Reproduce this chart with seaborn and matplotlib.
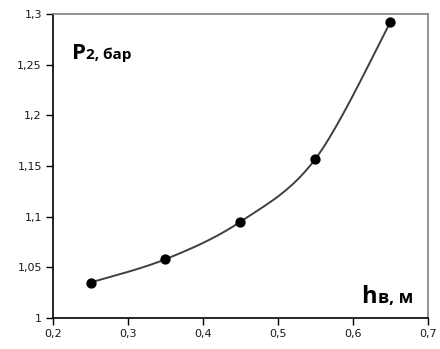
import numpy as np
import matplotlib
matplotlib.use("Agg")
import matplotlib.pyplot as plt
import seaborn as sns

# data
h_v = [0.25, 0.35, 0.45, 0.55, 0.65]
p2 = [1.035, 1.058, 1.095, 1.157, 1.292]

x_ticks = [0.2, 0.3, 0.4, 0.5, 0.6, 0.7]
x_labels = ["0,2", "0,3", "0,4", "0,5", "0,6", "0,7"]
y_ticks = [1.0, 1.05, 1.1, 1.15, 1.2, 1.25, 1.3]
y_labels = ["1", "1,05", "1,1", "1,15", "1,2", "1,25", "1,3"]


def smooth_line(xs, ys, n=40):
    # Catmull-Rom style bezier, like a spreadsheet "smoothed line"
    pts = np.column_stack([xs, ys])
    ext = np.vstack([pts[0], pts, pts[-1]])
    out = []
    for i in range(len(pts) - 1):
        p0, p1, p2_, p3 = ext[i], ext[i + 1], ext[i + 2], ext[i + 3]
        c1 = p1 + (p2_ - p0) / 6
        c2 = p2_ - (p3 - p1) / 6
        t = np.linspace(0, 1, n)[:, None]
        seg = ((1 - t) ** 3) * p1 + 3 * ((1 - t) ** 2) * t * c1 + 3 * (1 - t) * t ** 2 * c2 + t ** 3 * p2_
        out.append(seg if i == 0 else seg[1:])
    seg = np.vstack(out)
    return seg[:, 0], seg[:, 1]


sns.set_style("white")
plt.rcParams['font.family'] = ['DejaVu Sans']

fig = plt.figure(figsize=(4.4, 3.49), dpi=100)
ax = fig.add_axes([0.1205, 0.0888, 0.852, 0.8712])

sx, sy = smooth_line(h_v, p2)
ax.plot(sx, sy, color="#3f3f3f", lw=1.4, zorder=2)
sns.scatterplot(x=h_v, y=p2, ax=ax, color="black", s=55, edgecolor="black", linewidth=0, zorder=3)

ax.set_xlim(0.2, 0.7)
ax.set_ylim(1.0, 1.3)
ax.set_xticks(x_ticks)
ax.set_xticklabels(x_labels)
ax.set_yticks(y_ticks)
ax.set_yticklabels(y_labels)
ax.tick_params(axis="both", direction="out", length=5, width=1, color="black",
               labelsize=8, labelcolor="#1a1a1a", pad=3, left=True, bottom=True)

for side in ["left", "bottom"]:
    ax.spines[side].set_color("black")
    ax.spines[side].set_linewidth(1.2)
for side in ["top", "right"]:
    ax.spines[side].set_color("#808080")
    ax.spines[side].set_linewidth(1.2)

# axis captions inside the plot
ax.text(0.051, 0.852, "P", transform=ax.transAxes, fontsize=16, fontweight="bold",
        family="Open Sans", color="black")
ax.text(0.088, 0.852, "2, бар", transform=ax.transAxes, fontsize=11, fontweight="bold",
        family="Open Sans", color="black")
ax.text(0.822, 0.049, "h", transform=ax.transAxes, fontsize=17, fontweight="bold",
        family="Open Sans", color="black")
ax.text(0.868, 0.049, "в, м", transform=ax.transAxes, fontsize=12.5, fontweight="bold",
        family="Open Sans", color="black")

fig.savefig("out.png", dpi=100)
